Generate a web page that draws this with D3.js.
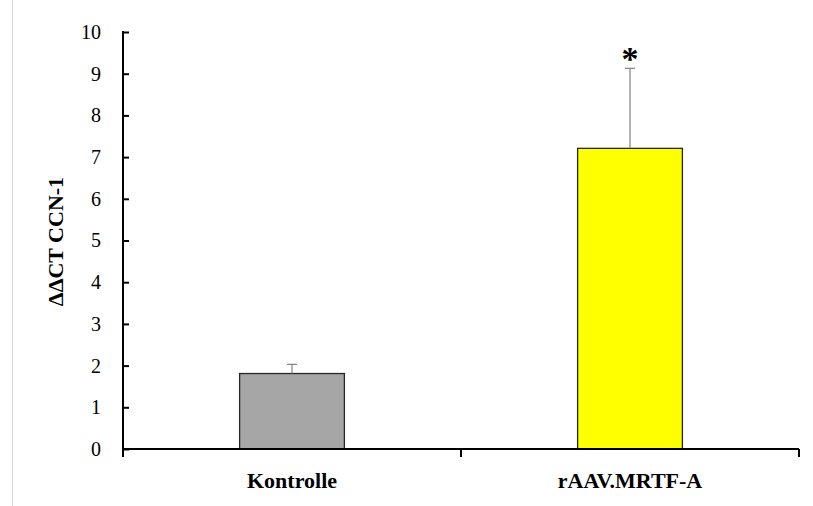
<!DOCTYPE html>
<html>
<head>
<meta charset="utf-8">
<script src="https://cdn.jsdelivr.net/npm/d3@7"></script>
</head>
<body style="margin:0;background:#fff">
<svg id="chart" width="813" height="506" style="display:block"></svg>
<script>
// Group data
const categories = ["Kontrolle", "rAAV.MRTF-A"];
const means = [1.81, 7.21];
const errUpper = [0.22, 1.92];
const barColors = ["#a6a6a6", "#ffff00"];
const significance = ["", "*"];
const yTicks = [0, 1, 2, 3, 4, 5, 6, 7, 8, 9, 10];
const yLabel = "ΔΔCT CCN-1";

const FONT = '"Liberation Serif"';
const svg = d3.select("#chart");
const margin = { left: 123, right: 14, top: 32, bottom: 57 };
const W = 813, H = 506;

// faint frame line at left edge
svg.append("line")
  .attr("x1", 12.5).attr("x2", 12.5).attr("y1", 0).attr("y2", H)
  .attr("stroke", "#d9d9d9").attr("stroke-width", 1);

const x = d3.scaleBand()
  .domain(categories)
  .range([margin.left, W - margin.right])
  .paddingInner(0.69).paddingOuter(0.345);

const y = d3.scaleLinear().domain([0, 10]).range([H - margin.bottom, margin.top]);

// bars
svg.selectAll("rect.bar").data(categories).join("rect")
  .attr("class", "bar")
  .attr("x", d => x(d))
  .attr("width", x.bandwidth())
  .attr("y", (d, i) => y(means[i]))
  .attr("height", (d, i) => y(0) - y(means[i]))
  .attr("fill", (d, i) => barColors[i])
  .attr("stroke", "#262626").attr("stroke-width", 1.3);

// upper error bars
const eb = svg.selectAll("g.err").data(categories).join("g").attr("class", "err");
eb.append("line")
  .attr("x1", d => x(d) + x.bandwidth() / 2).attr("x2", d => x(d) + x.bandwidth() / 2)
  .attr("y1", (d, i) => y(means[i])).attr("y2", (d, i) => y(means[i] + errUpper[i]))
  .attr("stroke", "#7f7f7f").attr("stroke-width", 1.2);
eb.append("line")
  .attr("x1", d => x(d) + x.bandwidth() / 2 - 5).attr("x2", d => x(d) + x.bandwidth() / 2 + 5)
  .attr("y1", (d, i) => y(means[i] + errUpper[i])).attr("y2", (d, i) => y(means[i] + errUpper[i]))
  .attr("stroke", "#7f7f7f").attr("stroke-width", 1.2);

// significance marks
svg.selectAll("text.sig").data(categories).join("text")
  .attr("class", "sig")
  .attr("x", d => x(d) + x.bandwidth() / 2)
  .attr("y", (d, i) => y(means[i] + errUpper[i]) + 2)
  .attr("text-anchor", "middle")
  .style("font-family", FONT).style("font-weight", "bold").style("font-size", "34px")
  .attr("fill", "#000")
  .text((d, i) => significance[i]);

// y axis
const yAxis = d3.axisRight(y).tickValues(yTicks).tickSize(6).tickFormat(d3.format("d"));
const gy = svg.append("g").attr("transform", `translate(${margin.left},0)`).call(yAxis)
  .attr("font-family", null);
gy.select(".domain").remove();
gy.selectAll(".tick line").attr("stroke", "#000").attr("stroke-width", 2);
gy.selectAll(".tick text")
  .attr("x", -22).attr("text-anchor", "end").attr("fill", "#000")
  .style("font-family", FONT).style("font-size", "20px");
gy.append("line")
  .attr("x1", 0).attr("x2", 0).attr("y1", y(10) - 1).attr("y2", y(0) + 8)
  .attr("stroke", "#000").attr("stroke-width", 2);

// x axis
const xAxis = d3.axisBottom(x).tickSize(0);
const gx = svg.append("g").attr("transform", `translate(0,${y(0)})`).call(xAxis)
  .attr("font-family", null);
gx.select(".domain").remove();
gx.append("line")
  .attr("x1", margin.left).attr("x2", W - margin.right)
  .attr("stroke", "#000").attr("stroke-width", 2);
// category separators
const seps = [margin.left + (W - margin.right - margin.left) / 2, W - margin.right];
gx.selectAll("line.sep").data(seps).join("line")
  .attr("class", "sep")
  .attr("x1", d => d).attr("x2", d => d).attr("y1", 0).attr("y2", 8)
  .attr("stroke", "#000").attr("stroke-width", 2);
gx.selectAll(".tick text")
  .attr("y", 39).attr("dy", 0).attr("fill", "#000")
  .style("font-family", FONT).style("font-weight", "bold").style("font-size", "22px");

// y label
svg.append("text")
  .attr("transform", `translate(63,${(y(0) + y(10)) / 2 + 1}) rotate(-90)`)
  .attr("text-anchor", "middle").attr("fill", "#000")
  .style("font-family", FONT).style("font-weight", "bold").style("font-size", "22px")
  .text(yLabel);
</script>
</body>
</html>
